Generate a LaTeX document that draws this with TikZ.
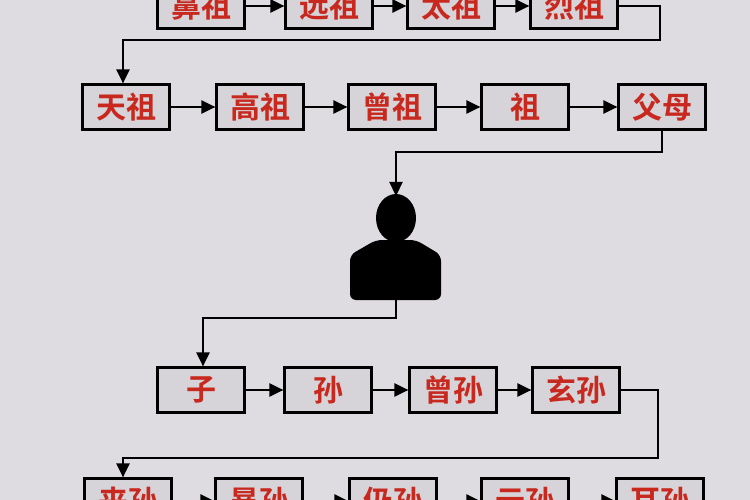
\documentclass[tikz,border=0pt]{standalone}
\usepackage{fontspec}
\newfontfamily\cjk{Noto Sans CJK SC Bold}
\usetikzlibrary{arrows.meta}
\definecolor{bg}{RGB}{222,220,225}
\definecolor{boxfill}{RGB}{214,212,216}
\definecolor{txt}{RGB}{200,40,30}
\tikzset{x=1pt,y=-1pt,
 box/.style={draw=black,line width=2.2pt,fill=boxfill,minimum width=87pt,minimum height=45pt,inner sep=0pt,font=\cjk\fontsize{30}{32}\selectfont,text=txt},
 conn/.style={line width=2.2pt,-{Triangle[length=14pt,width=13pt]}}}
\begin{document}
\begin{tikzpicture}
\fill[bg] (0,0) rectangle (750,500);
\useasboundingbox (0,0) rectangle (750,500);
\begin{scope}
\clip (0,0) rectangle (750,500);
% row 1
\node[box] (a1) at (201,6) {鼻祖};
\node[box] (a2) at (329,6) {远祖};
\node[box] (a3) at (451,6) {太祖};
\node[box] (a4) at (574,6) {烈祖};
% row 2
\node[box] (b1) at (126,107) {天祖};
\node[box] (b2) at (260,107) {高祖};
\node[box] (b3) at (392,107) {曾祖};
\node[box] (b4) at (525,107) {祖};
\node[box] (b5) at (662,107) {父母};
% person
\fill[black] (396,218) ellipse (20 and 24);
\fill[black,rounded corners=6pt] (350,300) -- (350,255) -- (376,240) -- (416,240) -- (441,255) -- (441,300) -- cycle;
\coordinate (pt) at (396,196);
\coordinate (pb) at (396,300);
% row 3
\node[box] (c1) at (201,390) {子};
\node[box] (c2) at (328,390) {孙};
\node[box] (c3) at (453,390) {曾孙};
\node[box] (c4) at (576,390) {玄孙};
% row 4
\node[box] (d1) at (128,501) {来孙};
\node[box] (d2) at (259,501) {晜孙};
\node[box] (d3) at (393,501) {仍孙};
\node[box] (d4) at (525,501) {云孙};
\node[box] (d5) at (660,501) {耳孙};
% arrows
\foreach \u/\v in {a1/a2,a2/a3,a3/a4,b1/b2,b2/b3,b3/b4,b4/b5,c1/c2,c2/c3,c3/c4,d1/d2,d2/d3,d3/d4,d4/d5}
  \draw[conn] (\u.east) -- (\v.west);
\draw[conn] (a4.east) -- (660,6) -- (660,40) -- (123,40) -- (b1.north -| 123,0);
\draw[conn] (b5.south) -- (662,152) -- (396,152) -- (pt);
\draw[conn] (pb) -- (396,318) -- (203,318) -- (c1.north -| 203,0);
\draw[conn] (c4.east) -- (658,390) -- (658,458) -- (123,458) -- (d1.north -| 123,0);
\end{scope}
\end{tikzpicture}
\end{document}
